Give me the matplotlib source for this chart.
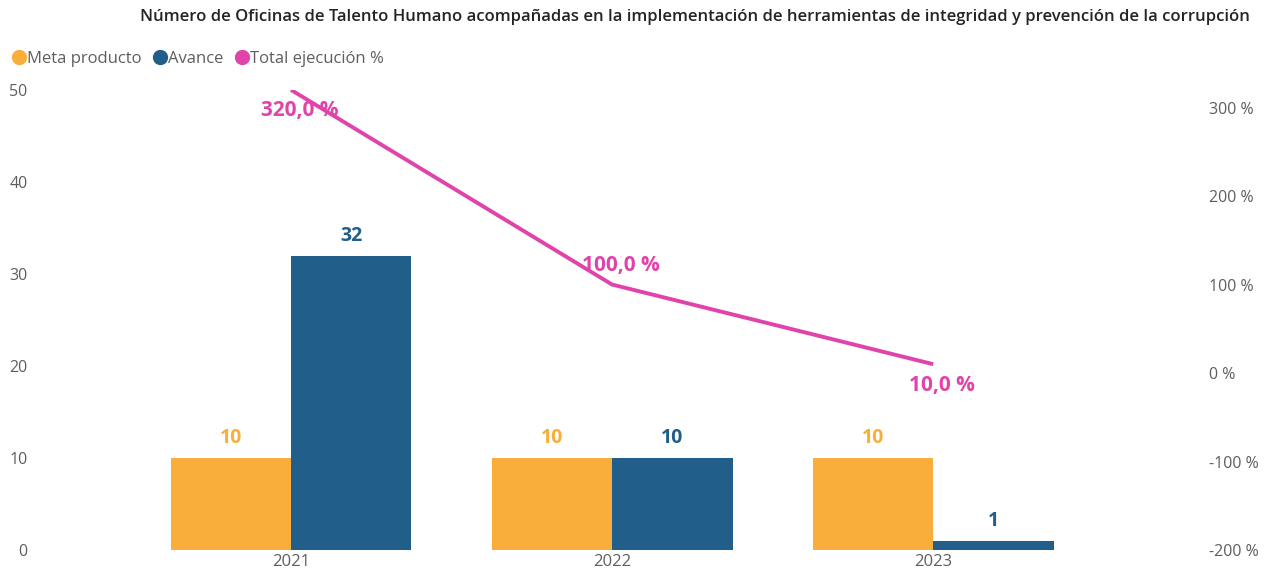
import matplotlib
matplotlib.use('Agg')
import matplotlib.pyplot as plt
import numpy as np
from matplotlib.lines import Line2D

years = ['2021', '2022', '2023']
meta_producto = [10, 10, 10]
avance = [32, 10, 1]
ejecucion_pct = [320.0, 100.0, 10.0]
left_ticks = [0, 10, 20, 30, 40, 50]
right_ticks = [-200, -100, 0, 100, 200, 300]

orange = '#F9AE3C'
blue = '#215F8A'
pink = '#E044AA'
gray = '#605E5C'

plt.rcParams['font.family'] = ['Open Sans', 'DejaVu Sans']

fig = plt.figure(figsize=(12.66, 5.76), dpi=100)
ax = fig.add_axes([0.103, 0.045, 0.761, 0.799])

x = np.arange(len(years))
w = 0.375
b1 = ax.bar(x - w / 2, meta_producto, w, color=orange)
b2 = ax.bar(x + w / 2, avance, w, color=blue)
for bars, col in ((b1, orange), (b2, blue)):
    for r in bars:
        ax.annotate(f'{r.get_height():g}', (r.get_x() + r.get_width() / 2, r.get_height()),
                    xytext=(0, 7), textcoords='offset points', ha='center', va='bottom',
                    fontsize=14, fontweight='bold', color=col)

ax.set_xlim(-0.5, len(years) - 0.5)
ax.set_ylim(0, 50)
ax.set_yticks(left_ticks)
ax.set_xticks(x)
ax.set_xticklabels(years)
for s in ax.spines.values():
    s.set_visible(False)
ax.tick_params(axis='y', length=0, colors=gray, labelsize=11.5, pad=74)
ax.tick_params(axis='x', length=0, colors=gray, labelsize=12, pad=3)

ax2 = ax.twinx()
ax2.plot(x, ejecucion_pct, color=pink, lw=2.8, solid_capstyle='butt')
ax2.set_ylim(-200, 320)
ax2.set_yticks(right_ticks)
ax2.set_yticklabels([f'{t} %' for t in right_ticks])
for s in ax2.spines.values():
    s.set_visible(False)
ax2.tick_params(axis='y', length=0, colors=gray, labelsize=11.5, pad=83)

offsets = [(6, -15), (6, 14), (6, -15)]
for xi, v, off in zip(x, ejecucion_pct, offsets):
    ax2.annotate(f'{v:.1f} %'.replace('.', ','), (xi, v), xytext=off,
                 textcoords='offset points', ha='center', va='center',
                 fontsize=15, fontweight='bold', color=pink)

fig.text(0.987, 0.97, 'Número de Oficinas de Talento Humano acompañadas en la implementación de herramientas de integridad y prevención de la corrupción',
         ha='right', va='center', fontsize=12, fontweight='semibold', color='#252423')

handles = [Line2D([], [], marker='o', ls='', color=c, markersize=10) for c in (orange, blue, pink)]
fig.legend(handles, ['Meta producto', 'Avance', 'Total ejecución %'], loc='center left',
           bbox_to_anchor=(-0.005, 0.898), ncol=3, frameon=False, handletextpad=-0.1,
           columnspacing=0.5, fontsize=12, labelcolor=gray, handlelength=1.2)

fig.savefig('out.png', dpi=100)
